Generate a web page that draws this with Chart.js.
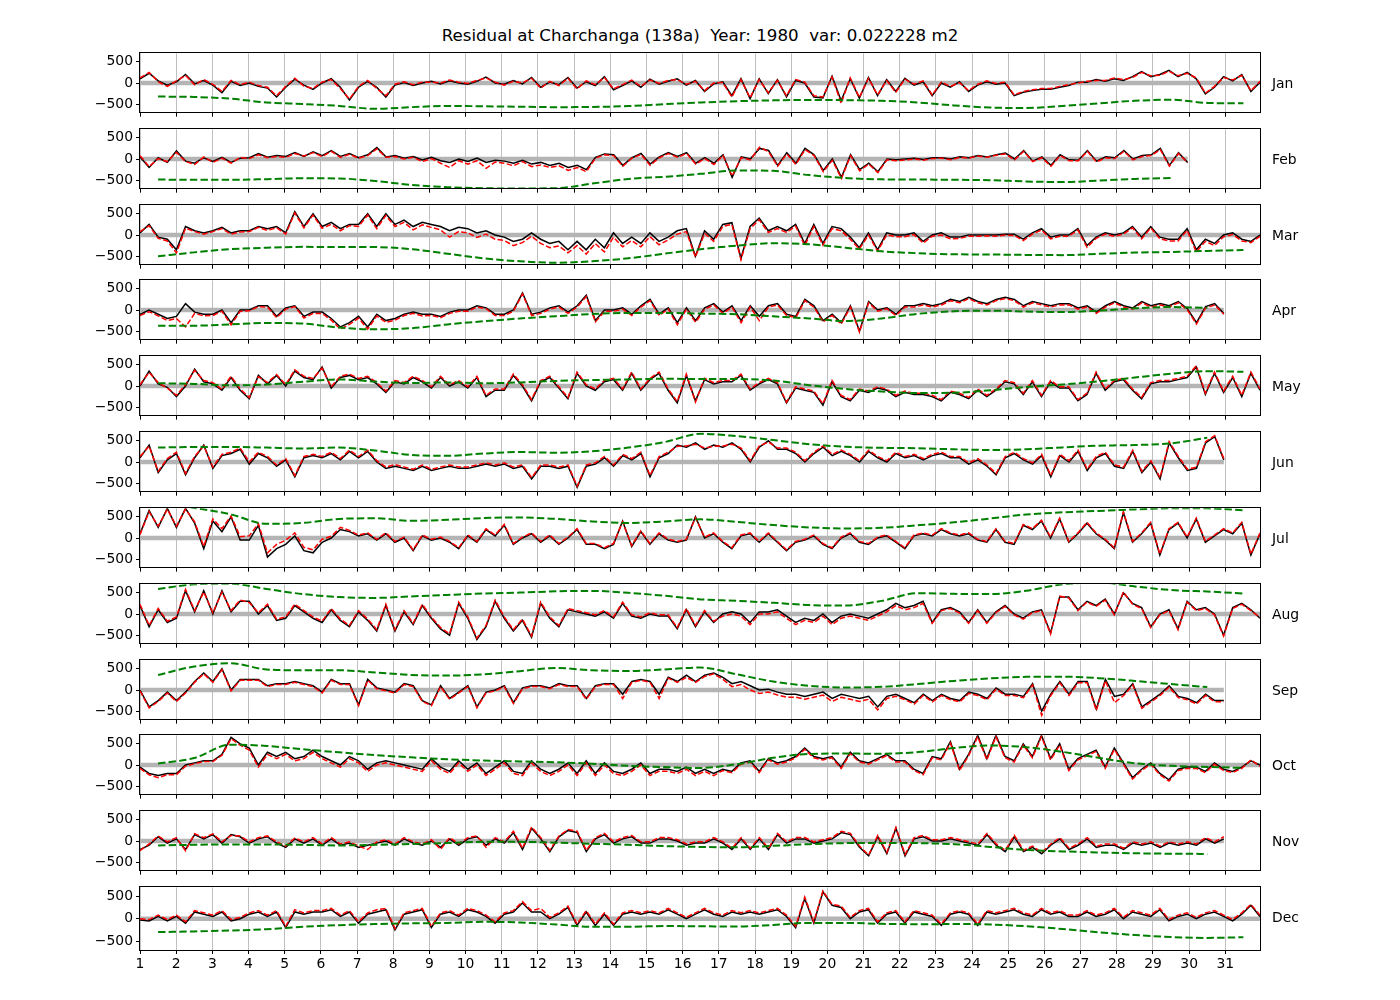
<!DOCTYPE html>
<html>
<head>
<meta charset="utf-8">
<script src="https://cdn.jsdelivr.net/npm/chart.js@4.4.0/dist/chart.umd.min.js"></script>
<style>
  body { margin: 0; background: #fff; width: 1400px; height: 1000px; position: relative; overflow: hidden; font-family: 'DejaVu Sans', sans-serif; }
  canvas { position: absolute; }
  .mon { position: absolute; left: 1272px; font-size: 13.9px; line-height: 16px; color: #000; }
  #title { position: absolute; top: 28px; left: 0; width: 1400px; text-align: center; font-size: 16.67px; line-height: 1; white-space: pre; color: #000; }
</style>
</head>
<body>
<div id="title">Residual at Charchanga (138a)  Year: 1980  var: 0.022228 m2</div>
<script>
// months and their lengths (1980 is a leap year)
const monthNames = ['Jan', 'Feb', 'Mar', 'Apr', 'May', 'Jun', 'Jul', 'Aug', 'Sep', 'Oct', 'Nov', 'Dec'];
const monthDays = [31, 29, 31, 30, 31, 30, 31, 31, 30, 31, 30, 31];
const dayTicks = [1,2,3,4,5,6,7,8,9,10,11,12,13,14,15,16,17,18,19,20,21,22,23,24,25,26,27,28,29,30,31];
const yTicks = [-500, 0, 500];

// residual (black), 4 values a day
const residJan = [100,230,50,-50, 30,200,-20,60, -50,-230,40,-60, 0,-80,-120,-330, -100,90,-50,-150, 0,100,-100,-400, -100,40,-100,-330, -50,10,-60,0,
  40,-20,50,0, -30,40,140,0, -30,60,-20,130, -100,20,-40,130, -120,30,-60,150, -160,-60,50,-100, 90,-30,40,100, -50,60,-200,-20,
  30,-300,100,-370, 100,-250,80,-330, 60,0,-330,-350, 160,-420,100,-360, 130,-300,80,-200, 110,-50,30,-300, 0,-100,30,-200, -50,30,-30,0,
  -300,-220,-180,-150, -150,-100,-60,20, 20,80,40,100, 60,150,270,150, 200,300,150,250, 100,-260,-100,150, 50,200,-200,20];
const residFeb = [50,-200,30,-80, 190,-50,-100,30, -60,40,-80,20, 30,130,40,80, 60,150,60,170, 80,200,60,130, 30,100,270,50, 80,20,60,-20,
  40,-40,-80,0, -60,20,-80,-30, -50,-100,-30,-120, -80,-150,-100,-200, -150,-250,40,120, 100,-150,30,130, -120,50,150,60, 150,-100,30,-100,
  100,-430,50,0, 250,200,-150,150, -100,250,100,-270, 0,-430,100,-250, -100,-300,0,-20, 0,20,-10,30, 30,0,50,30, 80,50,100,140,
  0,200,-50,50, -150,100,-20,-30, 200,-50,50,30, 200,0,80,100, 250,-150,150,-80];
const residMar = [50,250,-50,-100, -350,200,100,50, 100,180,50,100, 100,200,150,200, 50,550,200,500, 200,300,150,250, 250,500,200,500, 250,350,200,300,
  250,200,100,180, 150,50,100,0, -50,-150,-100,50, -100,-200,-150,-350, -150,-350,-100,-300, 50,-200,-50,-200, 50,-150,-50,100, 150,-500,100,-100,
  250,290,-550,200, 400,100,200,100, 250,-200,250,-200, 200,150,-50,-300, 50,-350,50,0, 0,50,-150,0, 50,-50,-50,0, 0,0,0,20,
  20,-100,50,150, -50,0,0,150, -250,-50,50,0, 50,200,-50,200, -50,-100,-100,150, -350,-100,-200,0, 50,-100,-150,0];
const residApr = [-100,0,-100,-200, -150,150,-50,-100, -100,0,-300,0, 0,100,100,-150, 50,100,-150,-50, -50,-200,-400,-300, -150,-400,-100,-250, -200,-100,-50,-100,
  -100,-150,-50,0, 0,100,50,-100, -100,0,400,-100, -50,50,100,-50, 100,350,-250,0, 0,50,-100,100, 250,-100,50,-300, 50,-250,50,150,
  -50,100,-250,100, -150,100,150,-100, -150,250,100,-250, -100,-300,100,-500, 200,0,50,-100, 100,100,150,100, 150,250,200,300, 200,150,250,300,
  250,100,200,150, 100,150,150,50, 100,-50,100,200, 100,50,200,100, 150,100,200,30, -300,80,150,-80];
const residMay = [0,350,50,-30, -250,0,400,100, 50,-100,200,-100, -300,250,50,250, 0,350,200,150, 450,-50,200,250, 150,200,50,-150, 100,50,200,100,
  -50,200,0,100, -50,200,-250,-100, -100,250,0,-350, 100,200,-50,-300, 300,0,-100,100, 150,-100,300,-100, 150,300,-100,-400, 250,-350,150,50,
  100,100,250,-100, 50,150,50,-400, -50,-100,-150,-450, 100,-250,-350,-100, -150,-50,-100,-250, -150,-200,-200,-250, -350,-150,-200,-300, -100,-250,-100,100,
  50,-200,100,-250, 100,-50,-50,-350, -200,300,-100,100, 150,-100,-300,50, 100,100,150,200, 450,-200,300,-150, 200,-250,300,-100];
const residJun = [100,400,-250,50, 200,-300,100,400, -150,150,200,300, -50,200,100,-100, 50,-350,100,150, 100,200,50,250, 100,250,0,-150, -100,-150,-200,-100,
  -200,-150,-100,-150, -150,-100,-50,-100, -50,-150,-100,-400, -100,-100,-150,-100, -600,-100,-50,100, -100,150,50,200, -350,100,200,400, 350,450,300,400,
  350,450,300,0, 350,500,300,300, 200,0,200,350, 150,250,150,0, 250,100,0,200, 100,150,50,150, 200,100,100,-50, 50,-100,-300,100,
  200,50,-50,150, -350,150,0,250, -200,100,200,-100, -150,250,-250,0, -400,450,100,-200, -150,450,600,50];
const residJul = [100,650,250,700, 250,700,350,-250, 400,150,500,-50, -50,300,-450,-250, -150,50,-300,-350, -100,0,200,150, 50,100,-50,100, -100,0,-300,50,
  -50,0,-100,-250, 50,-100,200,50, 300,-150,0,100, -100,50,-150,0, 200,-150,-150,-250, -150,400,-200,150, -150,100,-50,-100, -50,500,0,100,
  -100,-250,50,100, -100,100,-100,-300, -100,-50,50,-150, -250,0,100,-100, -150,0,50,-100, -250,50,100,50, 200,100,50,100, -50,-100,200,-100,
  -150,300,200,400, 0,450,-100,100, 350,100,-50,-250, 600,-100,100,350, -400,200,350,0, 450,-100,50,200, 100,350,-400,100];
const residAug = [200,-300,100,-200, -100,550,50,550, 0,550,50,300, 300,0,200,-150, -100,200,50,-100, -200,100,-150,-300, 50,-150,-400,200, -400,50,-250,200,
  -100,-350,-500,250, -100,-600,-300,300, -100,-400,-150,-550, 250,-100,-300,100, 50,0,-50,50, -100,250,-50,-100, 0,-50,-50,-350, 100,-300,50,-200,
  0,50,0,-200, 50,50,100,-50, -200,-100,-150,0, -200,-50,0,-50, -100,0,100,250, 150,200,300,-200, 100,150,50,-200, 100,-200,50,200,
  0,-100,50,100, -450,400,400,100, 300,200,350,0, 500,250,150,-300, 0,100,-350,300, 100,150,0,-500, 150,250,100,-100];
const residSep = [0,-400,-250,-50, -250,-50,200,400, 200,500,0,250, 250,250,100,150, 150,200,150,100, -50,250,150,150, -350,250,50,0, -50,150,100,-250,
  -350,100,-200,-50, 100,-400,-50,0, 100,-300,50,100, 100,50,150,100, 100,-200,100,150, 150,-100,200,250, 200,-100,300,200, 350,200,350,400,
  300,150,200,100, 0,20,-50,-100, -100,-150,-100,-50, -200,-100,-150,-200, -150,-400,-150,-100, -200,-300,-100,-250, -100,-200,-250,-50, -100,-200,50,-100,
  -100,-150,150,-500, -100,200,-100,200, 200,-450,250,-150, -100,150,-400,-250, -100,100,-150,-200, -300,-100,-250,-250];
const residOct = [-50,-200,-250,-200, -200,0,50,100, 100,250,650,500, 400,0,300,200, 300,150,200,350, 200,100,0,200, 100,-100,50,100, 50,0,-50,-100,
  150,-50,-150,100, -100,50,-200,-50, 100,-150,-200,100, -100,-200,-100,50, -200,100,-200,50, -150,-200,-100,50, -200,-100,-100,-150, -50,-200,-100,-200,
  -100,-150,50,100, -150,150,50,100, 200,400,200,150, 200,-50,300,100, 50,150,250,100, 100,-100,-200,200, 150,550,-100,250, 700,150,700,200,
  100,500,200,700, 150,500,-100,150, 250,350,-50,400, 50,-300,-100,50, -200,-350,-100,-50, -50,-150,50,-100, -150,-50,100,0];
const residNov = [-200,-100,100,-50, 50,-200,150,50, 150,-50,150,100, -50,50,100,-50, -150,50,-50,50, -100,50,-100,-50, -150,-100,-50,0, -100,50,-50,-100,
  0,-150,50,-100, 50,100,-100,50, -50,200,-200,300, 50,-250,100,250, 200,-250,50,150, -50,50,100,-50, -50,50,50,0, -100,-50,-50,50,
  -50,-200,50,-200, 50,-200,150,-50, 50,50,-50,0, 50,200,150,-150, -350,100,-300,300, -350,50,100,0, 0,50,0,-50, -100,150,-100,-250,
  100,-250,-150,-300, -100,50,-200,-100, 50,-150,-100,-100, -200,-50,-100,-50, -150,-50,-100,-50, -100,50,-50,50];
const residDec = [-30,-50,50,-50, 50,-100,150,100, 50,150,-50,0, 100,150,50,150, -200,150,100,150, 150,200,50,150, -100,100,150,200, -250,100,150,200,
  -200,100,150,50, 200,150,50,-100, 100,150,350,150, 150,0,100,250, -150,150,-150,100, -150,100,150,100, 150,100,200,100, 0,100,200,100,
  50,150,100,150, 100,150,200,50, -200,450,-100,600, 300,250,0,150, 200,-100,100,150, -100,150,100,50, -150,100,150,100, -150,150,100,150,
  200,100,50,200, 100,150,50,50, 150,50,100,200, 0,150,100,50, 200,-50,50,100, 0,100,150,50, -50,100,300,50];

// model / reconstructed residual (red dashed), same times
const modelJan = [120,250,30,-80, 50,180,-40,80, -30,-200,60,-40, 20,-60,-100,-300, -80,110,-70,-130, 20,80,-130,-380, -80,60,-130,-300, -30,30,-40,20,
  20,0,70,20, -10,60,120,20, -50,40,0,110, -120,40,-60,110, -140,50,-40,130, -140,-40,70,-80, 70,-10,60,80, -30,40,-180,0,
  10,-330,80,-350, 80,-230,60,-300, 80,20,-300,-330, 140,-480,120,-340, 110,-280,60,-220, 90,-30,50,-280, 20,-80,10,-180, -30,50,-10,20,
  -280,-200,-160,-130, -130,-80,-40,0, 40,60,60,120, 80,130,250,170, 180,280,170,230, 120,-240,-80,130, 70,180,-180,40];
const modelFeb = [80,-180,10,-60, 160,-60,-130,50, -80,20,-100,40, 10,100,30,60, 40,130,70,150, 60,180,40,110, 20,80,240,40, 60,0,40,-60,
  10,-100,-200,-40, -120,-40,-220,-70, -100,-160,-60,-180, -140,-200,-160,-270, -200,-300,20,100, 80,-170,20,110, -150,30,130,40, 130,-120,10,-130,
  80,-400,30,-20, 280,170,-170,120, -130,220,80,-300, -30,-460,80,-280, -120,-320,-20,-40, -20,0,-30,10, 20,-20,40,20, 70,40,90,120,
  -20,180,-60,30, -170,80,-40,-40, 180,-70,30,10, 180,-20,60,80, 220,-170,130,-90];
const modelMar = [80,220,-80,-140, -420,160,80,20, 80,150,20,70, 80,180,110,170, 20,520,170,470, 160,250,100,220, 200,470,150,460, 200,300,120,240,
  180,120,-50,80, 50,-60,20,-100, -130,-250,-180,-30, -200,-300,-260,-420, -250,-450,-200,-400, -50,-280,-130,-280, -40,-230,-120,20, 80,-520,40,-150,
  200,250,-580,150, 360,60,150,60, 210,-250,200,-240, 150,100,-100,-330, 0,-380,0,-40, -40,10,-190,-30, 0,-90,-80,-30, -30,-20,-30,0,
  -10,-130,20,120, -90,-30,-30,120, -290,-80,20,-30, 20,170,-90,170, -90,-140,-140,110, -400,-150,-250,-40, 10,-140,-180,-30];
const modelApr = [-130,-40,-140,-250, -200,-400,-80,-140, -130,-30,-350,-30, -20,80,70,-180, 20,80,-190,-80, -80,-240,-450,-340, -190,-450,-140,-290, -240,-130,-80,-140,
  -130,-180,-80,-30, -30,70,30,-130, -130,-30,380,-130, -80,20,70,-80, 70,320,-280,-30, -30,20,-130,70, 220,-130,20,-350, 20,-290,20,120,
  -80,70,-300,70, -250,70,120,-130, -180,220,70,-280, -130,-330,70,-520, 170,-30,30,-130, 70,70,120,70, 120,220,170,270, 170,120,220,270,
  220,70,170,120, 70,120,120,20, 70,-80,70,170, 70,20,170,70, 120,70,170,0, -330,50,120,-100];
const modelMay = [30,320,80,-50, -220,30,370,130, 80,-80,230,-70, -270,220,80,270, 30,380,230,180, 420,-20,230,280, 180,230,80,-120, 130,80,230,130,
  -20,230,30,130, -20,230,-220,-70, -70,280,30,-320, 130,230,-20,-270, 330,30,-70,130, 180,-70,330,-70, 180,330,-70,-370, 280,-380,180,80,
  130,130,280,-70, 80,180,80,-380, -20,-70,-120,-420, 130,-220,-320,-70, -120,-20,-70,-220, -120,-170,-170,-220, -320,-120,-170,-270, -70,-220,-70,130,
  80,-170,130,-220, 130,-20,-20,-320, -170,330,-70,130, 180,-70,-270,80, 130,130,180,230, 480,-170,330,-120, 230,-220,330,-70];
const modelJun = [130,370,-220,80, 230,-270,130,380, -120,180,230,330, 0,230,130,-70, 80,-320,130,180, 130,230,80,280, 130,280,30,-120, -60,-120,-170,-70,
  -170,-120,-70,-120, -120,-70,-20,-70, -20,-120,-70,-370, -70,-70,-120,-70, -570,-70,-20,130, -70,180,80,230, -320,130,230,370, 380,420,330,370,
  380,420,330,30, 380,470,330,330, 230,30,230,380, 180,280,180,30, 280,130,30,230, 130,180,80,180, 230,130,130,-20, 80,-70,-270,130,
  230,80,-20,180, -320,180,30,280, -170,130,230,-70, -120,280,-220,30, -370,480,130,-170, -120,480,620,80];
const modelJul = [80,620,280,680, 280,680,380,-200, 450,220,520,30, 50,340,-350,-150, -50,120,-220,-280, -30,40,250,180, 70,120,-30,120, -80,20,-280,70,
  -30,20,-80,-230, 70,-80,220,70, 320,-130,20,120, -80,70,-130,20, 220,-130,-130,-230, -130,380,-180,170, -130,120,-30,-80, -30,480,20,120,
  -80,-230,70,120, -80,120,-80,-280, -80,-30,70,-130, -230,20,120,-80, -130,20,70,-80, -230,70,120,70, 220,120,70,120, -30,-80,220,-80,
  -130,320,220,420, 20,470,-80,120, 370,120,-30,-230, 620,-80,120,370, -380,220,370,20, 470,-80,70,220, 120,370,-380,120];
const modelAug = [230,-270,130,-170, -70,580,80,520, 30,520,80,330, 270,30,230,-120, -70,230,80,-70, -170,130,-120,-270, 80,-120,-370,230, -370,80,-220,230,
  -70,-320,-470,280, -70,-570,-270,330, -70,-370,-120,-520, 280,-70,-270,130, 80,30,-20,80, -70,280,-20,-70, 30,-20,-20,-320, 130,-270,80,-170,
  -50,0,-50,-250, 0,0,50,-100, -250,-150,-200,-50, -250,-100,-50,-100, -150,-50,50,200, 100,150,250,-220, 80,130,20,-220, 80,-220,30,180,
  -20,-120,30,80, -470,420,380,80, 280,180,330,-20, 520,230,130,-320, -20,80,-370,280, 80,130,-20,-520, 130,230,80,-80];
const modelSep = [-20,-420,-270,-70, -270,-70,180,380, 180,480,-20,230, 230,230,80,130, 130,180,130,80, -70,230,130,130, -370,230,30,-20, -70,130,80,-270,
  -370,80,-220,-70, 80,-420,-70,-20, 80,-320,30,80, 80,30,130,80, 80,-220,80,130, 130,-200,180,230, 180,-200,280,180, 300,180,320,380,
  250,80,130,0, -80,-50,-120,-170, -170,-220,-170,-120, -270,-170,-220,-270, -220,-470,-200,-150, -230,-330,-130,-280, -130,-230,-280,-80, -130,-230,20,-130,
  -130,-180,120,-600, -130,170,-130,170, 170,-480,220,-300, -130,120,-430,-280, -130,70,-180,-230, -330,-130,-280,-280];
const modelOct = [-80,-230,-300,-230, -230,-30,30,80, 80,230,620,470, 350,-50,250,150, 250,100,150,300, 150,50,-50,150, 50,-150,0,50, 0,-50,-100,-150,
  100,-100,-200,50, -150,0,-250,-100, 50,-200,-250,50, -150,-250,-150,0, -250,50,-250,0, -200,-250,-150,0, -250,-150,-150,-200, -100,-250,-150,-250,
  -130,-180,20,70, -180,120,20,70, 170,370,170,120, 170,-80,270,70, 20,120,220,70, 70,-130,-230,170, 120,520,-130,220, 670,120,670,170,
  70,470,170,670, 120,470,-130,120, 220,320,-80,370, 20,-330,-130,20, -230,-380,-130,-80, -80,-180,20,-130, -180,-80,120,-30];
const modelNov = [-230,-70,120,-20, 80,-230,170,80, 170,-20,130,120, -20,80,120,-20, -120,70,-20,80, -70,80,-70,-20, -120,-200,-20,30, -70,80,-20,-70,
  30,-200,80,-70, 80,120,-150,80, -20,230,-170,330, 80,-220,120,270, 230,-220,80,180, -20,80,130,-20, -20,80,80,30, -70,-20,-20,80,
  -20,-170,80,-170, 80,-170,180,-20, 80,80,-20,30, 80,230,180,-120, -330,130,-270,320, -320,80,130,30, 30,80,30,-20, -70,180,-70,-220,
  130,-220,-120,-270, -70,80,-170,-70, 80,-120,-70,-70, -170,-20,-70,-20, -120,-20,-70,-20, -70,80,-20,100];
const modelDec = [0,-20,80,-20, 80,-70,180,130, 80,180,-20,30, 130,180,80,180, -170,200,130,180, 180,230,80,180, -70,130,200,230, -220,130,180,230,
  -170,130,180,80, 230,180,80,-70, 130,180,380,180, 230,30,130,280, -120,180,-120,130, -120,130,180,130, 180,130,230,130, 30,130,230,130,
  80,180,130,180, 130,180,230,80, -170,480,-70,620, 320,280,30,180, 230,-70,130,180, -70,180,130,80, -120,130,180,130, -120,180,130,180,
  230,130,80,230, 130,180,80,80, 180,80,130,230, 30,180,130,80, 230,-20,80,130, 30,130,180,80, -20,130,320,80];

// slow component (green dashed), one value a day at noon
const trendJan = [-320,-330,-370,-460,-495,-540,-610,-570,-540,-550,-560,-570,-565,-545,-500,-460,-430,-410,-400,-405,-420,-460,-530,-580,-590,-540,-480,-420,-395,-470,-480];
const trendFeb = [-485,-490,-490,-475,-455,-460,-520,-610,-665,-690,-695,-690,-580,-470,-420,-350,-270,-280,-380,-450,-480,-485,-490,-500,-530,-545,-510,-470,-450];
const trendMar = [-500,-410,-335,-300,-280,-285,-285,-335,-440,-550,-620,-655,-620,-550,-440,-335,-250,-195,-220,-300,-385,-430,-455,-460,-470,-475,-445,-415,-400,-375,-355];
const trendApr = [-370,-370,-340,-305,-320,-415,-455,-430,-340,-265,-200,-145,-95,-70,-70,-85,-100,-150,-200,-260,-200,-90,-30,-15,-35,-50,-15,40,70,50];
const trendMay = [65,50,15,35,100,155,105,70,85,65,85,120,140,155,170,165,165,130,20,-70,-130,-165,-160,-100,-25,35,110,200,290,350,335];
const trendJun = [340,355,355,340,320,340,270,165,145,200,235,220,255,340,470,665,610,520,420,360,335,325,300,285,300,345,385,400,440,570];
const trendJul = [850,710,560,335,355,450,465,405,430,470,485,450,390,355,390,440,380,305,250,225,240,300,370,460,555,605,640,675,705,700,655];
const trendAug = [590,700,715,590,470,400,380,415,450,485,505,535,545,500,430,345,310,265,210,200,310,490,475,470,550,700,740,650,565,530,485];
const trendSep = [355,555,630,485,465,465,415,355,340,370,445,520,465,450,485,530,370,200,100,60,75,140,215,275,310,315,280,215,140,70];
const trendOct = [35,165,480,450,370,300,235,180,135,105,85,65,30,-20,-50,-70,20,170,260,270,265,305,400,460,420,310,170,40,-20,-45,-70];
const trendNov = [-105,-90,-80,-80,-90,-105,-90,-70,-50,-20,-20,-40,-65,-90,-120,-140,-150,-115,-75,-50,-45,-50,-75,-140,-210,-245,-270,-290,-300,-305];
const trendDec = [-300,-285,-265,-235,-180,-145,-120,-105,-95,-70,-85,-130,-180,-180,-165,-170,-175,-140,-95,-95,-115,-125,-120,-130,-170,-230,-305,-365,-410,-430,-415];

const residAll = [residJan, residFeb, residMar, residApr, residMay, residJun, residJul, residAug, residSep, residOct, residNov, residDec];
const modelAll = [modelJan, modelFeb, modelMar, modelApr, modelMay, modelJun, modelJul, modelAug, modelSep, modelOct, modelNov, modelDec];
const trendAll = [trendJan, trendFeb, trendMar, trendApr, trendMay, trendJun, trendJul, trendAug, trendSep, trendOct, trendNov, trendDec];

Chart.defaults.font.family = "'DejaVu Sans', sans-serif";

// black box round each panel, like matplotlib spines
const frame = {
  id: 'frame',
  afterDraw(chart) {
    const a = chart.chartArea, g = chart.ctx;
    g.save();
    g.strokeStyle = '#000';
    g.lineWidth = 1;
    g.strokeRect(Math.round(a.left) - 0.5, Math.round(a.top) - 0.5, Math.round(a.right - a.left) + 1, Math.round(a.bottom - a.top) + 1);
    g.restore();
  }
};

const minusFmt = v => v < 0 ? '\u2212' + Math.abs(v) : String(v);
const tickFont = { family: "'DejaVu Sans', sans-serif", size: 13.9 };

const PANEL_TOP = 50, PANEL_STEP = 75.82, PANEL_H = 66, PAD = 8;

for (let m = 0; m < 12; m++) {
  const top = Math.round(PANEL_TOP + m * PANEL_STEP);
  const last = m === 11;
  const xAxisH = last ? 32 : PAD;
  const h = PAD + PANEL_H + xAxisH;

  const cv = document.createElement('canvas');
  cv.width = 1320; cv.height = h;
  cv.style.left = '40px'; cv.style.top = (top - PAD) + 'px';
  cv.style.width = '1320px'; cv.style.height = h + 'px';
  document.body.appendChild(cv);

  const lbl = document.createElement('div');
  lbl.className = 'mon';
  lbl.style.top = (top + PANEL_H / 2 - 8) + 'px';
  lbl.textContent = monthNames[m];
  document.body.appendChild(lbl);

  // hourly record runs from day 1 00:00 to the last hour of the month
  const n = monthDays[m];
  const end = n + 1 - 1 / 24;
  const step = (end - 1) / (residAll[m].length - 1);
  const resid = residAll[m].map((v, i) => ({ x: 1 + i * step, y: v }));
  const model = modelAll[m].map((v, i) => ({ x: 1 + i * step, y: v }));
  const trend = trendAll[m].map((v, i) => ({ x: 1.5 + i, y: v }));

  new Chart(cv.getContext('2d'), {
    type: 'line',
    data: {
      datasets: [
        { data: [{ x: 1, y: 0 }, { x: end, y: 0 }], borderColor: '#b4b4b4', borderWidth: 4.5, pointRadius: 0, order: 4 },
        { data: resid, borderColor: '#000', borderWidth: 1.5, pointRadius: 0, order: 3 },
        { data: model, borderColor: '#ff0000', borderWidth: 1.5, borderDash: [5.5, 2.4], pointRadius: 0, order: 2 },
        { data: trend, borderColor: '#008000', borderWidth: 2, borderDash: [7.4, 3.2], pointRadius: 0, cubicInterpolationMode: 'monotone', order: 1 }
      ]
    },
    options: {
      responsive: false,
      devicePixelRatio: 1,
      animation: false,
      events: [],
      layout: { padding: { top: PAD, right: 100, left: 0, bottom: 0 } },
      plugins: { legend: { display: false }, tooltip: { enabled: false } },
      scales: {
        x: {
          type: 'linear',
          min: 1,
          max: 32 - 1 / 24,
          afterBuildTicks: s => { s.ticks = dayTicks.map(v => ({ value: v })); },
          afterFit: s => { s.height = xAxisH; },
          border: { display: false },
          grid: { color: '#b0b0b0', lineWidth: 0.8, tickColor: '#000', tickLength: 4, tickWidth: 1 },
          ticks: { display: last, color: '#000', font: tickFont, padding: 2, maxRotation: 0, autoSkip: false }
        },
        y: {
          min: -700,
          max: 700,
          afterBuildTicks: s => { s.ticks = yTicks.map(v => ({ value: v })); },
          afterFit: s => { s.width = 100; },
          border: { display: false },
          grid: { drawOnChartArea: false, tickColor: '#000', tickLength: 4, tickWidth: 1 },
          ticks: { color: '#000', font: tickFont, padding: 3, callback: minusFmt }
        }
      }
    },
    plugins: [frame]
  });
}
</script>
</body>
</html>
